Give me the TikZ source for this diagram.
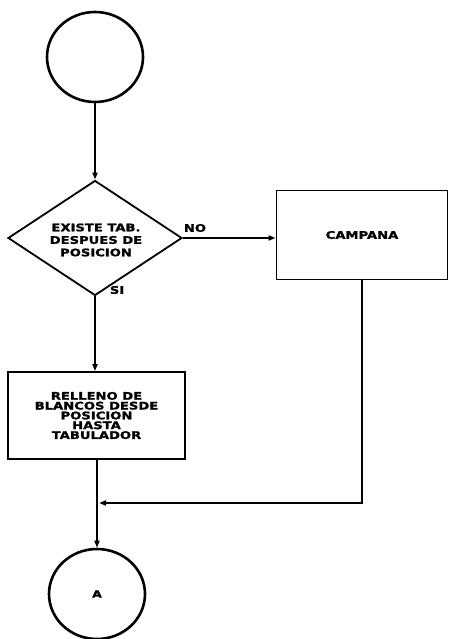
\documentclass[tikz,border=0pt]{standalone}
\usepackage{fontspec}
\newfontfamily\trazo[FakeStretch=1.25,FakeBold=1.5]{DejaVu Sans}
\usetikzlibrary{positioning,arrows.meta,shapes.geometric}

\begin{document}
\begin{tikzpicture}[
  x=1pt,y=-1pt,
  >={Triangle[length=7pt,width=5pt]},
  every path/.style={line width=1.8pt},
  term/.style={ellipse,draw,line width=2.6pt,inner sep=0pt,
               minimum width=96pt,minimum height=90pt,font=\trazo\bfseries\fontsize{10}{10}\selectfont},
  caja/.style={rectangle,draw,line width=1.8pt,align=center,inner sep=0pt,
               font=\trazo\bfseries\fontsize{10.5}{9.8}\selectfont},
  rombo/.style={diamond,draw,line width=1.8pt,inner sep=0pt,
                minimum width=174pt,minimum height=115pt},
  etq/.style={align=center,inner sep=0pt,font=\trazo\bfseries\fontsize{10.5}{12.5}\selectfont}
]
  \useasboundingbox (0,0) rectangle (450,639);

  % inicio
  \node[term] (ini) at (95,57) {};

  % decision
  \node[rombo] (dec) at (95,238) {};
  \node[etq] (dect) at (96,240) {EXISTE TAB.\\ DESPUES DE\\ POSICION};
  \node[etq,anchor=west] (no) at (183,228) {NO};
  \node[etq,anchor=west] (si) at (109,290) {SI};

  % cajas de proceso
  \node[caja,minimum width=171pt,minimum height=89pt] (camp) at (362,235) {CAMPANA};
  \node[caja,minimum width=177pt,minimum height=87pt] (rell) at (96.5,415.5)
       {RELLENO DE\\ BLANCOS DESDE\\ POSICION\\ HASTA\\ TABULADOR};

  % fin
  \node[term] (fin) at (97,594) {A};
  \coordinate (jun) at (99,503);

  % flechas
  \draw[->] (ini.south) -- (dec.north);
  \draw[->] (dec.east) -- (dec.east -| camp.west);
  \draw[->] (dec.south) -- (rell.north -| dec.south);
  \draw[->] (rell.south -| fin.north) -- (fin.north);
  \draw[->] (camp.south) |- (jun);
\end{tikzpicture}
\end{document}
